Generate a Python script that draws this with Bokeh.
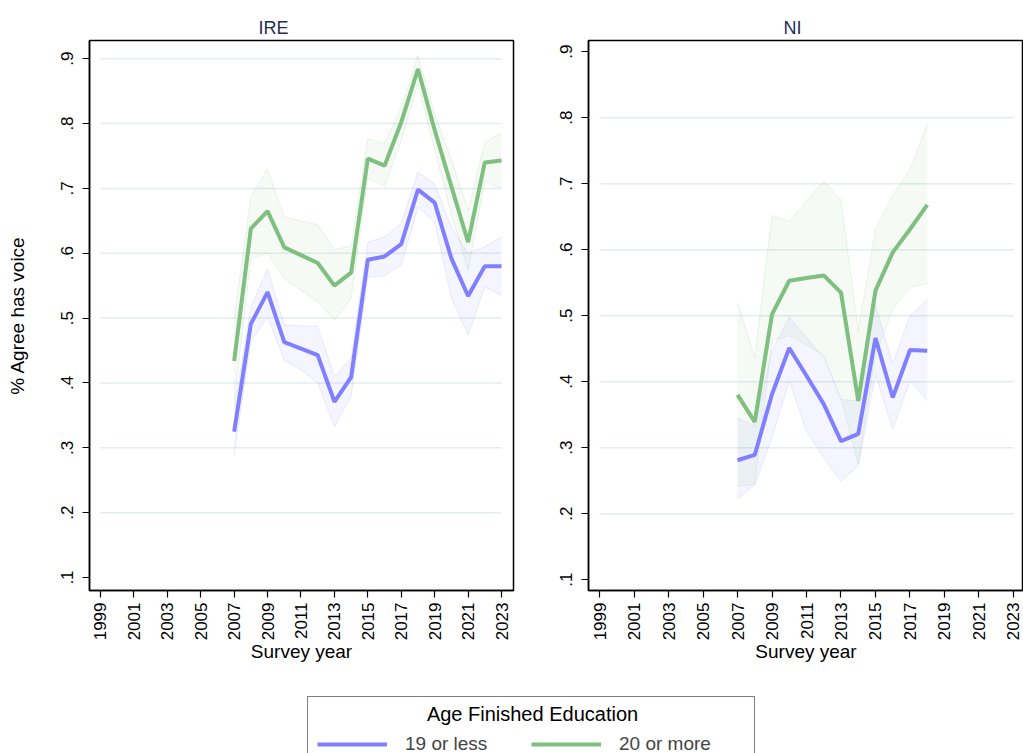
import math
from bokeh.plotting import figure
from bokeh.layouts import row, column
from bokeh.models import (FixedTicker, CustomJSTickFormatter, Legend, LegendItem,
                          Range1d, Label)
from bokeh.embed import file_html
from bokeh.resources import INLINE

# ---------------- data ----------------
year_ticks = [1999, 2001, 2003, 2005, 2007, 2009, 2011, 2013, 2015, 2017, 2019, 2021, 2023]
y_ticks = [0.1, 0.2, 0.3, 0.4, 0.5, 0.6, 0.7, 0.8, 0.9]
ire_grid = [0.2, 0.3, 0.4, 0.5, 0.6, 0.7, 0.8, 0.9]
ni_grid = [0.2, 0.3, 0.4, 0.5, 0.6, 0.7, 0.8]

ire_years = [2007, 2008, 2009, 2010, 2011, 2012, 2013, 2014, 2015, 2016, 2017, 2018, 2019, 2020, 2021, 2022, 2023]
ire_low_mean = [0.325, 0.491, 0.540, 0.463, 0.453, 0.443, 0.371, 0.409, 0.590, 0.595, 0.614, 0.698, 0.678, 0.592, 0.534, 0.580, 0.580]
ire_low_lo   = [0.290, 0.464, 0.502, 0.435, 0.420, 0.400, 0.333, 0.379, 0.563, 0.565, 0.582, 0.671, 0.648, 0.531, 0.474, 0.548, 0.535]
ire_low_hi   = [0.360, 0.517, 0.576, 0.489, 0.488, 0.487, 0.410, 0.438, 0.617, 0.625, 0.646, 0.725, 0.707, 0.640, 0.600, 0.610, 0.625]
ire_high_mean = [0.434, 0.638, 0.665, 0.609, 0.597, 0.585, 0.550, 0.570, 0.746, 0.735, 0.802, 0.884, 0.790, 0.703, 0.617, 0.740, 0.743]
ire_high_lo   = [0.370, 0.592, 0.600, 0.561, 0.543, 0.525, 0.497, 0.530, 0.716, 0.703, 0.774, 0.861, 0.760, 0.660, 0.574, 0.710, 0.700]
ire_high_hi   = [0.500, 0.688, 0.730, 0.656, 0.650, 0.644, 0.606, 0.611, 0.776, 0.769, 0.825, 0.905, 0.815, 0.745, 0.666, 0.771, 0.785]

ni_years = [2007, 2008, 2009, 2010, 2011, 2012, 2013, 2014, 2015, 2016, 2017, 2018]
ni_low_mean = [0.281, 0.289, 0.381, 0.451, 0.409, 0.366, 0.310, 0.321, 0.466, 0.376, 0.448, 0.447]
ni_low_lo   = [0.222, 0.244, 0.315, 0.401, 0.325, 0.285, 0.249, 0.272, 0.411, 0.328, 0.401, 0.371]
ni_low_hi   = [0.345, 0.333, 0.447, 0.498, 0.467, 0.437, 0.373, 0.371, 0.515, 0.427, 0.500, 0.524]
ni_high_mean = [0.380, 0.339, 0.502, 0.553, 0.557, 0.561, 0.535, 0.371, 0.538, 0.596, 0.631, 0.668]
ni_high_lo   = [0.242, 0.244, 0.462, 0.470, 0.455, 0.440, 0.374, 0.275, 0.440, 0.510, 0.543, 0.549]
ni_high_hi   = [0.520, 0.437, 0.652, 0.643, 0.674, 0.704, 0.675, 0.477, 0.631, 0.682, 0.722, 0.791]

series_labels = ["19 or less", "20 or more"]
legend_title = "Age Finished Education"
panel_titles = ["IRE", "NI"]

# ---------------- style ----------------
FONT = "Liberation Sans"
BLUE = "#8080ff"
GREEN = "#7fbf7f"
GRID = "#e4ecef"
TITLE_COLOR = "#1f2d55"


def panel(title, title_offset, years, lo_m, lo_lo, lo_hi, hi_m, hi_lo, hi_hi,
          xr, yr, width, mbl, mbr, grid_vals, ylabel):
    p = figure(width=width, height=672, x_range=Range1d(*xr), y_range=Range1d(*yr),
               output_backend="svg", toolbar_location=None,
               min_border_left=mbl, min_border_right=mbr,
               min_border_top=40, min_border_bottom=82)
    p.title.text = title
    p.title.align = "left"
    p.title.offset = title_offset
    p.title.text_font = FONT
    p.title.text_font_size = "18px"
    p.title.text_font_style = "normal"
    p.title.text_color = TITLE_COLOR
    p.title.standoff = 6

    p.xgrid.visible = False
    p.ygrid.visible = False
    p.outline_line_color = "black"
    p.outline_line_width = 1.5
    p.outline_line_alpha = 1.0
    p.background_fill_color = "white"
    p.border_fill_color = "white"

    # grid lines spanning the labelled years
    p.segment(x0=year_ticks[0], x1=year_ticks[-1], y0=grid_vals, y1=grid_vals,
              line_color=GRID, line_width=1.5)

    for m, lo, hi, col in ((lo_m, lo_lo, lo_hi, BLUE), (hi_m, hi_lo, hi_hi, GREEN)):
        p.varea(x=years, y1=lo, y2=hi, fill_color=col, fill_alpha=0.08)
        p.line(years, lo, line_color=col, line_alpha=0.15, line_width=1)
        p.line(years, hi, line_color=col, line_alpha=0.15, line_width=1)
    p.line(years, lo_m, line_color=BLUE, line_width=4)
    p.line(years, hi_m, line_color=GREEN, line_width=4)

    xa = p.xaxis[0]
    ya = p.yaxis[0]
    xa.ticker = FixedTicker(ticks=year_ticks)
    xa.major_label_orientation = math.pi / 2
    xa.axis_label = "Survey year"
    ya.ticker = FixedTicker(ticks=y_ticks)
    ya.formatter = CustomJSTickFormatter(code="return tick.toFixed(1).replace(/^0/, '')")
    ya.major_label_orientation = "vertical"
    for ax in (xa, ya):
        ax.update(minor_tick_line_color=None, major_tick_out=7, major_tick_in=0,
                  major_tick_line_color="black", major_tick_line_width=1.2,
                  axis_line_color="black", axis_line_width=1.5,
                  major_label_text_font=FONT, major_label_text_color="black",
                  major_label_text_font_size="17px",
                  major_label_standoff=5,
                  axis_label_text_font=FONT, axis_label_text_font_size="19px",
                  axis_label_text_font_style="normal", axis_label_text_color="black")
    ya.major_label_standoff = 9
    if ylabel:
        ya.axis_label = ylabel
        ya.axis_label_standoff = 31
    xa.axis_label_standoff = -2
    return p


p1 = panel(panel_titles[0], 169, ire_years, ire_low_mean, ire_low_lo, ire_low_hi,
           ire_high_mean, ire_high_lo, ire_high_hi,
           (1998.342, 2023.718), (0.080, 0.928), 540, 89, 27, ire_grid,
           "% Agree has voice")
p2 = panel(panel_titles[1], 195, ni_years, ni_low_mean, ni_low_lo, ni_low_hi,
           ni_high_mean, ni_high_lo, ni_high_hi,
           (1998.362, 2023.58), (0.0836, 0.917), 483, 48, 0, ni_grid, None)

# ---------------- legend ----------------
pl = figure(width=1023, height=81, x_range=Range1d(0, 1), y_range=Range1d(0, 1),
            output_backend="svg", toolbar_location=None,
            x_axis_type=None, y_axis_type=None,
            min_border_left=0, min_border_right=0, min_border_top=0, min_border_bottom=0)
pl.xgrid.visible = False
pl.ygrid.visible = False
pl.outline_line_color = None
# legend-only renderers: the data lie outside this strip's ranges, so only the key shows
r1 = pl.line(ire_years, ire_low_mean, line_color=BLUE, line_width=4)
r2 = pl.line(ire_years, ire_high_mean, line_color=GREEN, line_width=4)
leg = Legend(items=[LegendItem(label=series_labels[0], renderers=[r1]),
                    LegendItem(label=series_labels[1], renderers=[r2])],
             title=" ", orientation="horizontal", location=(307, -12),
             glyph_width=70, glyph_height=20, label_standoff=18, label_width=126,
             spacing=0, padding=9, margin=0,
             border_line_color="black", border_line_width=1,
             background_fill_alpha=0.0,
             label_text_font=FONT, label_text_font_size="19px",
             title_text_font=FONT, title_text_font_size="20px",
             title_text_font_style="normal", title_standoff=4)
pl.add_layout(leg, "center")
pl.add_layout(Label(x=532, y=40, x_units="screen", y_units="screen", text=legend_title,
                    text_align="center", text_baseline="middle", text_font=FONT,
                    text_font_size="20px", text_color="black", level="overlay"))

layout = column(row(p1, p2), pl)
open("out.html", "w").write(file_html(layout, INLINE))
